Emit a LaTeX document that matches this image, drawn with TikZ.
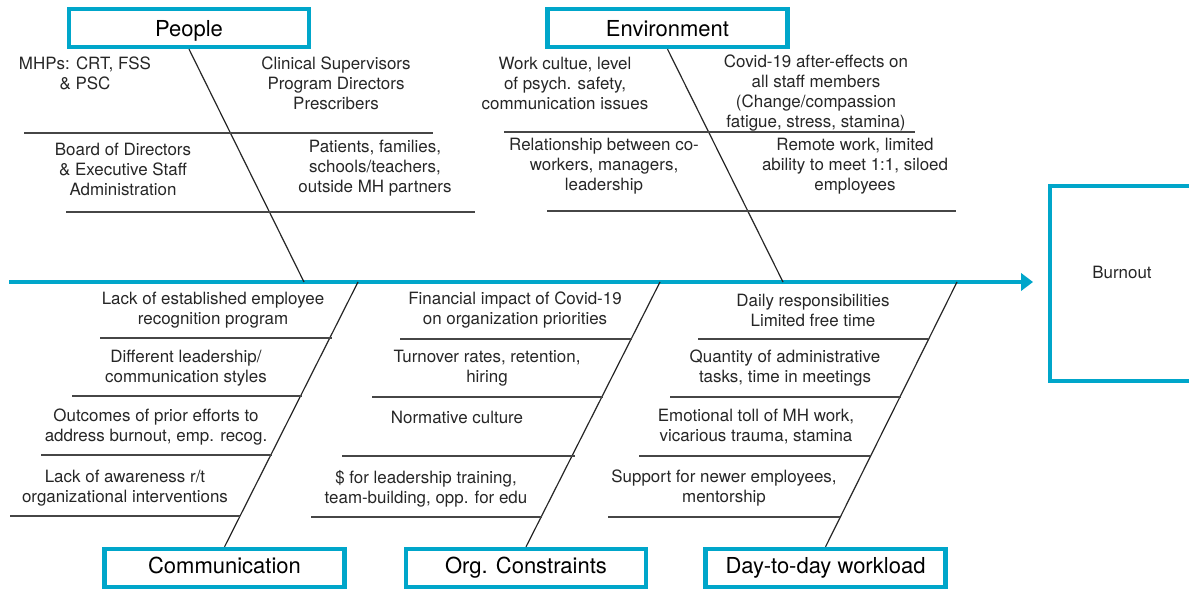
\documentclass[tikz,border=0pt]{standalone}
\usepackage{fontspec}
\setmainfont{TeX Gyre Heros}
\usetikzlibrary{arrows.meta}
\definecolor{fishblue}{RGB}{0,166,202}
\definecolor{ribgray}{RGB}{70,70,70}

\begin{document}
\begin{tikzpicture}[x=0.75pt, y=-0.75pt,
		cat/.style = {draw=fishblue, line width=3.2pt, minimum width=180pt, minimum height=28.5pt, inner sep=0pt, text height=12pt, text depth=3.5pt, font=\fontsize{16.5}{19}\selectfont},
		cattop/.style = {cat, text height=14pt, text depth=1pt},
		cause/.style = {align=center, text=black!85, inner sep=0pt, font=\fontsize{12.7}{15}\selectfont},
		bone/.style = {draw=black!85, line width=0.9pt},
		rib/.style = {draw=ribgray, line width=1.3pt},
		spine/.style = {draw=fishblue, line width=3pt, -{Triangle[length=9pt, width=13pt]}}]
			\useasboundingbox (0,0) rectangle (1189,591);

			% categories
			\node[cattop] (people) at (189,28) {People};
			\node[cattop] (env) at (667.5,28) {Environment};
			\node[cat] (comm) at (224.5,568) {Communication};
			\node[cat] (org) at (526,568) {Org. Constraints};
			\node[cat] (day) at (825.5,568) {Day-to-day workload};

			% effect
			\node[cat, minimum width=120pt, minimum height=146pt, text height=, text depth=] (effect) at (1130,283.5) {};
			\node[cause] (burnout) at (1122,272) {Burnout};

			% spine
			\coordinate (tail) at (9,282);
			\coordinate (head) at (1033,282);
			\draw[spine] (tail) -- (head);

			% bones
			\coordinate (p-end) at (304,282);
			\coordinate (e-end) at (783,282);
			\coordinate (c-end) at (358,282);
			\coordinate (o-end) at (660,282);
			\coordinate (d-end) at (957,282);
			\path[bone]
				(people.south) edge (p-end)
				(env.south) edge (e-end)
				(comm.north) edge (c-end)
				(org.north) edge (o-end)
				(day.north) edge (d-end);

			% ribs
			\draw[rib] (24,133) -- (433,133);
			\draw[rib] (66,212) -- (475,212);
			\draw[rib] (504,132) -- (915,132);
			\draw[rib] (547,211) -- (956,211);
			\draw[rib] (100,338) -- (332,338);
			\draw[rib] (72,396) -- (302,396);
			\draw[rib] (41,455) -- (272,455);
			\draw[rib] (10,516) -- (240,516);
			\draw[rib] (400,339) -- (632,339);
			\draw[rib] (372,397) -- (603,397);
			\draw[rib] (342,456) -- (575,456);
			\draw[rib] (311,517) -- (542,517);
			\draw[rib] (698,339) -- (928,339);
			\draw[rib] (670,397) -- (901,397);
			\draw[rib] (639,456) -- (870,456);
			\draw[rib] (608,517) -- (840,517);

			% people
			\node[cause] (mhp) at (85,73.5) {MHPs: CRT, FSS\\\& PSC};
			\node[cause] (super) at (336,83.5) {Clinical Supervisors\\Program Directors\\Prescribers};
			\node[cause] (board) at (123,169) {Board of Directors\\\& Executive Staff\\Administration};
			\node[cause] (patients) at (375,168) {Patients, families,\\schools/teachers,\\outside MH partners};

			% environment
			\node[cause] (culture) at (565,83.5) {Work cultue, level\\of psych. safety,\\communication issues};
			\node[cause] (covid) at (816,93.5) {Covid-19 after-effects on\\all staff members\\(Change/compassion\\fatigue, stress, stamina)};
			\node[cause] (relation) at (604,166) {Relationship between co-\\workers, managers,\\leadership};
			\node[cause] (remote) at (855,166) {Remote work, limited\\ability to meet 1:1, siloed\\employees};

			% communication
			\node[cause] (recog) at (213,310) {Lack of established employee\\recognition program};
			\node[cause] (styles) at (186,368) {Different leadership/\\communication styles};
			\node[cause] (outcomes) at (156,427) {Outcomes of prior efforts to\\address burnout, emp. recog.};
			\node[cause] (aware) at (125,488) {Lack of awareness r/t\\organizational interventions};

			% org. constraints
			\node[cause] (finance) at (515,310) {Financial impact of Covid-19\\on organization priorities};
			\node[cause] (turnover) at (487,368) {Turnover rates, retention,\\hiring};
			\node[cause] (norm) at (457,417) {Normative culture};
			\node[cause] (train) at (426,489) {\$ for leadership training,\\team-building, opp. for edu};

			% day-to-day workload
			\node[cause] (daily) at (813,310) {Daily responsibilities\\Limited free time};
			\node[cause] (admin) at (785,368) {Quantity of administrative\\tasks, time in meetings};
			\node[cause] (toll) at (756,427) {Emotional toll of MH work,\\vicarious trauma, stamina};
			\node[cause] (newer) at (724,488) {Support for newer employees,\\mentorship};
		\end{tikzpicture}
\end{document}
